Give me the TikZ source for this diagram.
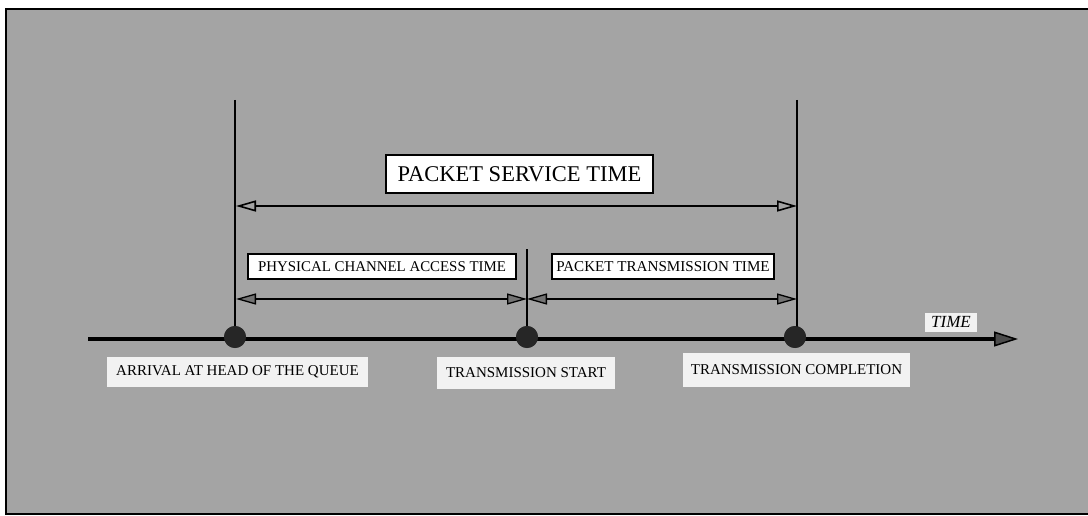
\documentclass[tikz,border=0pt]{standalone}
\usepackage{fontspec}
\setmainfont{Liberation Serif}
\usetikzlibrary{arrows.meta}
\definecolor{bg}{HTML}{A4A4A4}
\definecolor{lbl}{HTML}{F2F2F2}
\begin{document}
\begin{tikzpicture}[x=1pt,y=-1pt,
  topbox/.style={draw=black, line width=2.2pt, fill=white, inner sep=0pt, align=center},
  lowlbl/.style={fill=lbl, inner sep=0pt, font=\fontsize{15}{15}\selectfont},
  dot/.style={circle, fill=black!85, minimum size=22pt, inner sep=0pt},
  vline/.style={line width=1.7pt},
  timeline/.style={line width=3.4pt, -{Triangle[length=24pt,width=15pt,fill=black!70,line width=1.5pt]}},
  svc/.style={line width=1.8pt, {Triangle[open,length=20pt,width=11pt,line width=1.6pt]}-{Triangle[open,length=20pt,width=11pt,line width=1.6pt]}},
  sub/.style={line width=1.6pt, {Triangle[length=20pt,width=11pt,fill=black!55,line width=1.3pt]}-{Triangle[length=20pt,width=11pt,fill=black!55,line width=1.3pt]}}
]
\useasboundingbox (0,0) rectangle (1088,516);
\fill[bg] (6,9) rectangle (1088,514);
\draw[line width=1.8pt] (1090,9) -- (6,9) -- (6,514) -- (1090,514);

% timeline
\coordinate (tl0) at (88,339);
\coordinate (tl1) at (1018,339);
\draw[timeline] (tl0) -- (tl1);

% vertical markers
\coordinate (t1) at (235,100);
\coordinate (t2) at (527,249);
\coordinate (t3) at (797,100);
\node[dot] (d1) at (235,337) {};
\node[dot] (d2) at (527,337) {};
\node[dot] (d3) at (795,337) {};
\draw[vline] (t1) -- (d1.center);
\draw[vline] (t2) -- (d2.center);
\draw[vline] (t3) -- (797,337);
\node[dot] at (d1) {};
\node[dot] at (d2) {};
\node[dot] at (d3) {};

% service time arrow
\coordinate (s1) at (236,206);
\coordinate (s2) at (797,206);
\draw[svc] (s1) -- (s2);

% sub arrows
\coordinate (a1) at (236,299);
\coordinate (a2) at (527,299);
\coordinate (a3) at (797,299);
\draw[sub] (a1) -- (a2);
\draw[sub] (a2) -- (a3);

% boxes
\node[topbox, minimum width=267pt, minimum height=38pt, font=\fontsize{22.5}{22.5}\selectfont] (pst) at (519.5,174) {PACKET SERVICE TIME};
\node[topbox, minimum width=268pt, minimum height=25pt, font=\fontsize{14.9}{14.9}\selectfont] (pcat) at (382,266.5) {PHYSICAL CHANNEL ACCESS TIME};
\node[topbox, minimum width=222pt, minimum height=25pt, font=\fontsize{15.1}{15.1}\selectfont] (ptt) at (663,266.5) {PACKET TRANSMISSION TIME};

% lower labels
\node[lowlbl, minimum width=261pt, minimum height=30pt] (arr) at (237.5,372) {ARRIVAL AT HEAD OF THE QUEUE};
\node[lowlbl, minimum width=178pt, minimum height=32pt] (ts) at (526,373) {TRANSMISSION START};
\node[lowlbl, minimum width=227pt, minimum height=34pt] (tc) at (796.5,370) {TRANSMISSION COMPLETION};
\node[lowlbl, minimum width=52pt, minimum height=19pt, font=\fontsize{17}{17}\selectfont\itshape] (time) at (951,322) {TIME};
\end{tikzpicture}
\end{document}
